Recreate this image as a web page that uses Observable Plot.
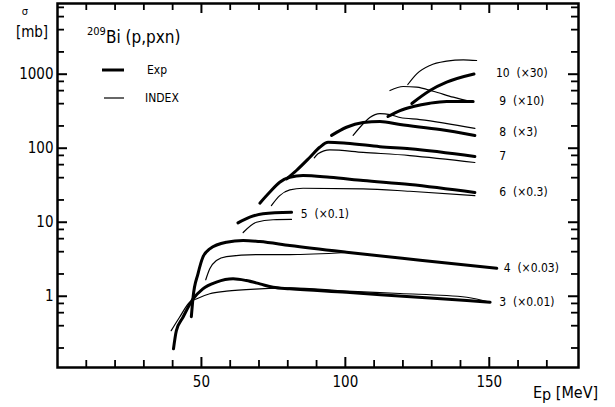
<!DOCTYPE html>
<html><head><meta charset="utf-8">
<script src="https://cdn.jsdelivr.net/npm/d3@7"></script>
<script src="https://cdn.jsdelivr.net/npm/@observablehq/plot@0.6"></script>
<style>
html,body{margin:0;padding:0;background:#fff;}
#chart svg{display:block;}
</style></head><body><div id="chart"></div>
<script>
const FONT = '"Liberation Sans Narrow","DejaVu Sans Condensed","Arial Narrow",sans-serif';

// ---- data: [Ep (MeV), sigma (mb, scaled)] ----
const exp3 = [[40.3,0.195],[41.3,0.343],[43.6,0.52],[47.1,0.92],[50.5,1.26],[55.2,1.55],[61.0,1.72],[65.6,1.63],[70.3,1.47],[74.9,1.32],[80.7,1.26],[100.4,1.13],[120,1.0],[142.2,0.875],[150.3,0.83]];
const idx3 = [[39.5,0.343],[42.4,0.52],[45.9,0.83],[48.2,0.92],[52.9,1.08],[58.7,1.17],[70.3,1.26],[80.7,1.30],[100.4,1.17],[119,1.09],[142.2,0.97],[150.3,0.83]];
const exp4 = [[46.5,0.53],[47.1,0.97],[48.8,2.01],[50.5,3.37],[52.9,4.37],[58.7,5.37],[64.5,5.66],[70.3,5.48],[80.7,4.84],[100.4,3.93],[126,3.07],[152.6,2.39]];
const idx4 = [[51.5,1.67],[52.9,2.35],[55.2,3.04],[58.7,3.44],[70.3,3.66],[80.7,3.66],[100.4,3.9]];
const exp5 = [[62.7,9.8],[66.8,11.7],[71.4,13.0],[81.3,13.6]];
const idx5 = [[64.5,7.26],[69.1,10.0],[74.9,10.8],[81.3,10.9]];
const exp6 = [[70.3,18.1],[73.7,25.4],[77.2,34.7],[80.7,40.5],[85.3,42.8],[94.6,40.5],[106.2,36.6],[122.4,32.3],[145,25.2]];
const idx6 = [[74.3,16.8],[77.2,22.9],[80.7,27.4],[85.3,28.8],[106.2,28.3],[122.4,26.2],[145,22.9]];
const exp7 = [[79.6,38.6],[83.0,50],[87.7,75.5],[91.1,103],[94.0,120.5],[100.4,117],[112,105],[122.4,98],[145,77.2]];
const idx7 = [[89.2,74],[90.5,84],[94.6,95],[106.2,88],[122.4,79.6],[145,64.1]];
const exp8 = [[95.2,149],[100.4,192],[106.2,222],[112,230],[119,209],[132.9,179],[145,149]];
const idx8 = [[102.7,149],[106.2,214],[108.5,260],[112,294],[115.5,285],[119,260],[125.9,244],[145,185]];
const exp9 = [[114.8,268],[119,323],[123.6,366],[129.4,406],[135.2,428],[144.4,428]];
const idx9 = [[115.5,602],[120.1,682],[124.8,667],[130.5,589],[137.5,489],[144.4,419]];
const exp10 = [[123.1,402],[129.4,602],[135.2,780],[144.7,1006]];
const idx10 = [[121.7,726],[124.8,1012],[129.4,1312],[135.2,1499],[141,1566],[145.6,1531]];

const curveIds = ["3","4","5","6","7","8","9","10"];
const expSeries = [exp3,exp4,exp5,exp6,exp7,exp8,exp9,exp10];
const idxSeries = [idx3,idx4,idx5,idx6,idx7,idx8,idx9,idx10];

// curve labels: number, scale factor, anchor (Ep, sigma)
const labelNums    = ["3","4","5","6","7","8","9","10"];
const labelFactors = ["(×0.01)","(×0.03)","(×0.1)","(×0.3)","","(×3)","(×10)","(×30)"];
const labelX       = [153.5,155.0,84.5,153.5,153.5,153.5,153.5,152.3];
const labelY       = [0.84,2.4,13.0,25.5,77,165,428,1040];

// axis ticks
const xMajor = [50,100,150];
const xMinor = [10,20,30,40,60,70,80,90,110,120,130,140,160,170];
const yMajor = [1,10,100,1000];
const yMinor = [0.2,0.4,0.6,0.8,2,4,6,8,20,40,60,80,200,400,600,800,2000,4000,6000,8000];

// ---- build rows ----
const toRows = (series) => series.flatMap((s,i) => s.map(([x,y]) => ({curve: curveIds[i], x, y})));
const expRows = toRows(expSeries);
const idxRows = toRows(idxSeries);
const labelRows = labelNums.map((n,i) => ({x: labelX[i], y: labelY[i],
  text: labelFactors[i] ? n + "  " + labelFactors[i] : n}));

const W = 615, H = 407;
const ML = 57, MR = 37, MT = 3, MB = 40;
const PW = W - ML - MR, PH = H - MT - MB;
const chart = Plot.plot({
  width: W, height: H,
  marginLeft: ML, marginRight: MR, marginTop: MT, marginBottom: MB,
  style: {fontFamily: FONT, fontSize: "15px", color: "black", background: "white", overflow: "visible"},
  x: {type: "linear", domain: [0, 181], axis: null},
  y: {type: "log", domain: [0.109, 9020], axis: null},
  marks: [
    // inward ticks on all four sides
    Plot.tickX(xMajor, {x: d => d, insetTop: PH - 10, stroke: "black", strokeWidth: 2}),
    Plot.tickX(xMinor, {x: d => d, insetTop: PH - 7, stroke: "black", strokeWidth: 1.8}),
    Plot.tickX(xMajor, {x: d => d, insetBottom: PH - 10, stroke: "black", strokeWidth: 2}),
    Plot.tickX(xMinor, {x: d => d, insetBottom: PH - 7, stroke: "black", strokeWidth: 1.8}),
    Plot.tickY(yMajor, {y: d => d, insetRight: PW - 10, stroke: "black", strokeWidth: 2}),
    Plot.tickY(yMinor, {y: d => d, insetRight: PW - 7, stroke: "black", strokeWidth: 1.8}),
    Plot.tickY(yMajor, {y: d => d, insetLeft: PW - 10, stroke: "black", strokeWidth: 2}),
    Plot.tickY(yMinor, {y: d => d, insetLeft: PW - 7, stroke: "black", strokeWidth: 1.8}),
    // tick labels
    Plot.axisX(xMajor, {anchor: "bottom", tickSize: 0, tickPadding: 9, tickFormat: d => String(d), label: null, fontSize: 15}),
    Plot.axisY(yMajor, {anchor: "left", tickSize: 0, tickPadding: 4, tickFormat: d => String(d), label: null, fontSize: 15}),
    // curves
    Plot.line(idxRows, {x: "x", y: "y", z: "curve", stroke: "black", strokeWidth: 1.2, curve: "monotone-x"}),
    Plot.line(expRows, {x: "x", y: "y", z: "curve", stroke: "black", strokeWidth: 3, curve: "monotone-x", strokeLinecap: "round"}),
    Plot.text(labelRows, {x: "x", y: "y", text: "text", textAnchor: "start", fontSize: 12, fill: "black"}),
    Plot.frame({stroke: "black", strokeWidth: 2.5})
  ]
});
document.getElementById("chart").appendChild(chart);

// ---- annotations: title, axis titles, legend ----
const svg = d3.select(chart);
const g = svg.append("g").attr("font-family", FONT).attr("fill", "black").attr("text-anchor", "start");
const title = g.append("text").attr("x", 87).attr("y", 43).attr("font-size", 17).attr("text-anchor", "start");
title.append("tspan").attr("font-size", 11).attr("dy", -8).text("209");
title.append("tspan").attr("dy", 8).text("Bi (p,pxn)");
g.append("text").attr("x", 25).attr("y", 15).attr("font-size", 11).attr("text-anchor", "middle").text("σ");
g.append("text").attr("x", 32).attr("y", 37).attr("font-size", 15).attr("text-anchor", "middle").text("[mb]");
const xt = g.append("text").attr("x", 533).attr("y", 398).attr("font-size", 16).attr("text-anchor", "start");
xt.append("tspan").text("E");
xt.append("tspan").attr("dy", 2).text("p");
xt.append("tspan").attr("dy", -2).text(" [MeV]");
// legend
g.append("line").attr("x1", 102).attr("x2", 124).attr("y1", 70).attr("y2", 70).attr("stroke", "black").attr("stroke-width", 3);
g.append("text").attr("x", 147).attr("y", 74).attr("font-size", 12).attr("text-anchor", "start").text("Exp");
g.append("line").attr("x1", 104).attr("x2", 124).attr("y1", 98).attr("y2", 98).attr("stroke", "black").attr("stroke-width", 1.2);
g.append("text").attr("x", 145).attr("y", 102).attr("font-size", 12).attr("text-anchor", "start").text("INDEX");
</script></body></html>
